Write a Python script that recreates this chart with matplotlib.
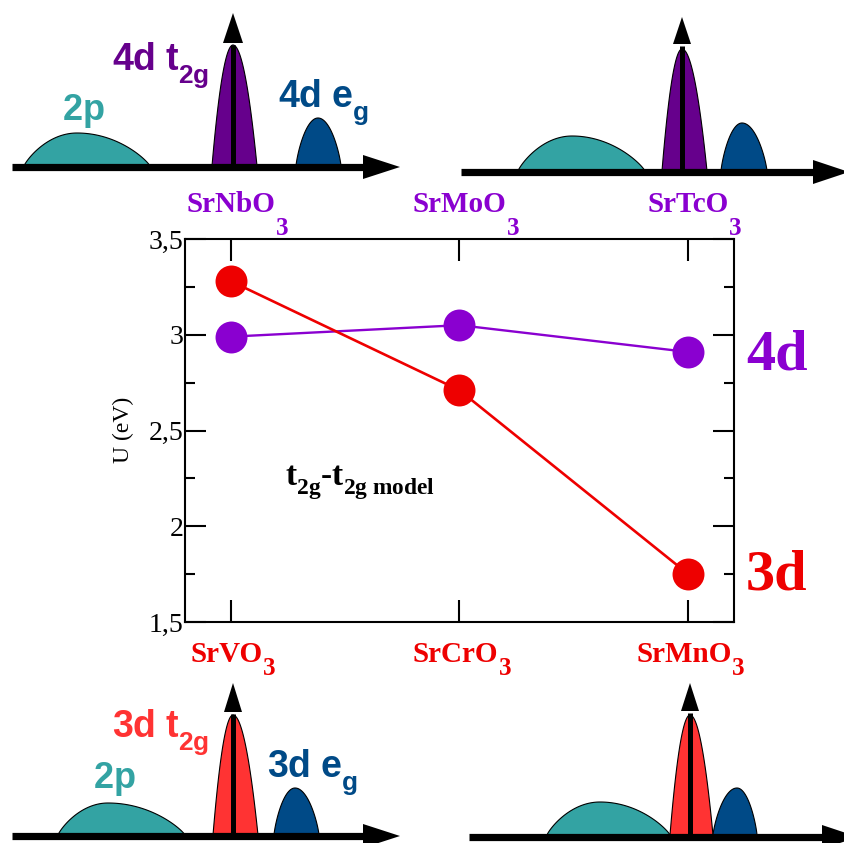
import numpy as np
import matplotlib
matplotlib.use('Agg')
import matplotlib.pyplot as plt
import matplotlib._mathtext as _mt
from matplotlib.patches import Polygon
from matplotlib.ticker import MultipleLocator

plt.rcParams['font.family'] = ['Liberation Serif', 'DejaVu Serif']
plt.rcParams['mathtext.fontset'] = 'custom'
plt.rcParams['mathtext.rm'] = 'Liberation Serif:bold'
plt.rcParams['mathtext.it'] = 'Liberation Serif:italic:bold'
plt.rcParams['mathtext.bf'] = 'Liberation Serif:bold'
plt.rcParams['mathtext.sf'] = 'Liberation Sans:bold'
# subscripts drop lower, as in the original artwork
_mt.FontConstantsBase.sub1 = 0.62

# ---------------- data ----------------
compounds_3d = ['SrVO3', 'SrCrO3', 'SrMnO3']
compounds_4d = ['SrNbO3', 'SrMoO3', 'SrTcO3']
U_3d = [3.28, 2.71, 1.75]
U_4d = [2.99, 3.05, 2.91]
y_ticks = [1.5, 2.0, 2.5, 3.0, 3.5]
y_tick_labels = ['1,5', '2', '2,5', '3', '3,5']

# colours
RED = '#EE0000'
PURPLE = '#8A00D0'
S_TEAL = '#33A3A3'
S_PURPLE = '#66008C'
S_NAVY = '#004A87'
S_RED = '#FF3333'

W, H = 844, 843
fig = plt.figure(figsize=(W / 100, H / 100), dpi=100)

# overlay axes in pixel coordinates for the schematic DOS sketches
ov = fig.add_axes([0, 0, 1, 1], zorder=0)
ov.set_xlim(0, W)
ov.set_ylim(H, 0)
ov.axis('off')


def hump(x0, x1, xp, base, top, color, p=1.0):
    xl = np.linspace(x0, xp, 80)
    xr = np.linspace(xp, x1, 80)[1:]
    tl = (xp - xl) / (xp - x0)
    tr = (xr - xp) / (x1 - xp)
    h = base - top
    yl = base - h * np.clip(1 - tl ** 2, 0, None) ** p
    yr = base - h * np.clip(1 - tr ** 2, 0, None) ** p
    xs = np.concatenate([xl, xr])
    ys = np.concatenate([yl, yr])
    ov.fill(xs, ys, facecolor=color, edgecolor='black', lw=0.8, zorder=2)


def harrow(x0, xhead, xtip, y, half):
    ov.plot([x0, xhead + 2], [y, y], color='black', lw=5.2,
            solid_capstyle='butt', zorder=4)
    ov.add_patch(Polygon([[xhead, y - half], [xtip, y], [xhead, y + half]],
                         closed=True, facecolor='black', edgecolor='none', zorder=4))


def varrow(x, ybase, yhead, ytip, half):
    ov.plot([x, x], [ybase, yhead + 2], color='black', lw=3.6,
            solid_capstyle='butt', zorder=4)
    ov.add_patch(Polygon([[x - half, yhead], [x, ytip], [x + half, yhead]],
                         closed=True, facecolor='black', edgecolor='none', zorder=4))


# top-left (4d)
hump(24, 150, 77, 166, 133, S_TEAL, 0.85)
hump(212, 257, 233, 166, 45, S_PURPLE, 1.0)
hump(296, 341, 318, 166, 118, S_NAVY, 0.8)
harrow(12, 363, 400, 167, 12)
varrow(233, 167, 43, 13, 10)
# top-right (4d)
hump(518, 645, 572, 171, 136, S_TEAL, 0.85)
hump(662, 707, 682, 171, 49, S_PURPLE, 1.0)
hump(721, 767, 742, 171, 123, S_NAVY, 0.8)
harrow(461, 813, 849, 172, 12)
varrow(682, 172, 44, 17, 9)
# bottom-left (3d)
hump(58, 185, 108, 835, 803, S_TEAL, 0.85)
hump(213, 258, 233, 835, 715, S_RED, 1.0)
hump(274, 319, 295, 835, 788, S_NAVY, 0.8)
harrow(12, 363, 400, 836, 12)
varrow(233, 836, 712, 683, 9)
# bottom-right (3d)
hump(547, 670, 600, 835, 802, S_TEAL, 0.85)
hump(670, 713, 690, 835, 715, S_RED, 1.0)
hump(713, 757, 737, 835, 788, S_NAVY, 0.8)
harrow(469, 822, 858, 837, 12)
varrow(690, 837, 711, 683, 9)

# schematic labels
ov.text(62, 120, r'$\mathsf{2p}$', color=S_TEAL, fontsize=26, va='baseline', ha='left')
ov.text(112, 70, r'$\mathsf{4d\ t_{2g}}$', color=S_PURPLE, fontsize=27, va='baseline', ha='left')
ov.text(278, 107, r'$\mathsf{4d\ e_{g}}$', color=S_NAVY, fontsize=27, va='baseline', ha='left')
ov.text(93, 788, r'$\mathsf{2p}$', color=S_TEAL, fontsize=26, va='baseline', ha='left')
ov.text(112, 737, r'$\mathsf{3d\ t_{2g}}$', color=S_RED, fontsize=27, va='baseline', ha='left')
ov.text(267, 777, r'$\mathsf{3d\ e_{g}}$', color=S_NAVY, fontsize=27, va='baseline', ha='left')

# big side labels
ov.text(777, 356, '4d', color=PURPLE, fontsize=42, fontweight='bold', ha='center', va='center')
ov.text(777, 576, '3d', color=RED, fontsize=42, fontweight='bold', ha='center', va='center')
ov.text(123, 430, 'U (eV)', fontsize=17, rotation=90, ha='center', va='center')
ov.text(285, 486, r'$\mathrm{t_{2g}}$-$\mathrm{t_{2g\ model}}$', fontsize=24,
        fontweight='bold', ha='left', va='baseline')

# ---------------- main chart ----------------
ax = fig.add_axes([185 / W, 1 - 622 / H, (734 - 185) / W, (622 - 239) / H], zorder=1)
ax.patch.set_alpha(0)

x = np.arange(len(U_3d))
ax.plot(x, U_4d, '-o', color=PURPLE, lw=1.7, ms=23, mew=0, zorder=3)
ax.plot(x, U_3d, '-o', color=RED, lw=1.9, ms=23, mew=0, zorder=4)

ax.set_xlim(-0.2, 2.2)
ax.set_ylim(1.5, 3.5)
ax.set_yticks(y_ticks, y_tick_labels)
ax.yaxis.set_minor_locator(MultipleLocator(0.25))
ax.set_xticks(x, [''] * len(x))
ax.tick_params(axis='y', which='major', direction='in', length=15, width=1.5,
               right=True, labelsize=20, pad=1)
ax.tick_params(axis='y', which='minor', direction='in', length=7, width=1.5, right=True)
ax.tick_params(axis='x', which='major', direction='in', length=16, width=1.5, top=True)
for s in ax.spines.values():
    s.set_linewidth(1.5)


def compound_label(xi, name, color, dx, dy_main, dy_sub):
    main = ax.annotate(name[:-1], xy=(xi, 1 if dy_main > 0 else 0),
                       xycoords=('data', 'axes fraction'),
                       xytext=(dx, dy_main), textcoords='offset points',
                       ha='center', va='baseline', color=color, fontsize=21,
                       fontweight='bold', annotation_clip=False)
    ax.annotate(name[-1], xy=(1, 1 if dy_main > 0 else 0),
                xycoords=(main, 'axes fraction'),
                xytext=(0.3, dy_sub), textcoords='offset points',
                ha='left', va='baseline', color=color, fontsize=18,
                fontweight='bold', annotation_clip=False)


for xi, name in zip(x, compounds_4d):
    compound_label(xi, name, PURPLE, 0, 19.4, 2.9)
for xi, name in zip(x, compounds_3d):
    compound_label(xi, name, RED, -3, -28.8, -38.0)

fig.savefig('out.png', dpi=100)
